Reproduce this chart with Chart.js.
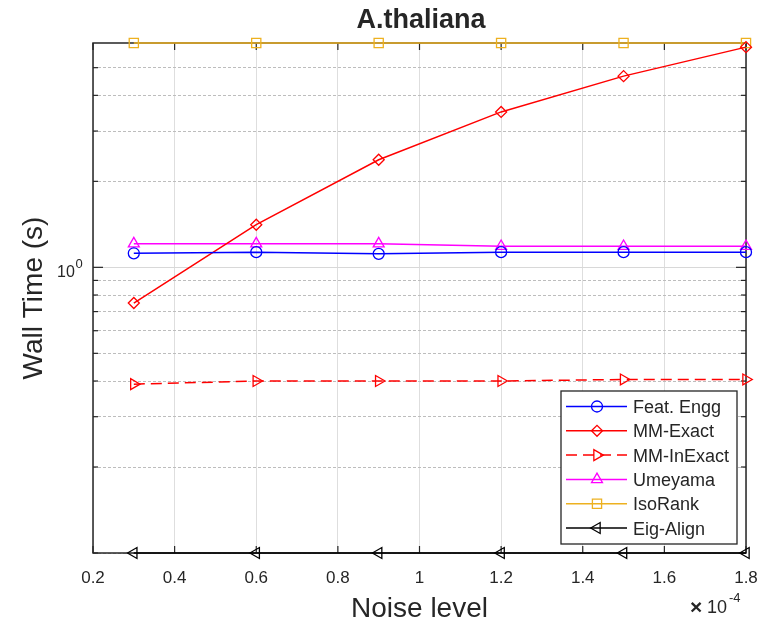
<!DOCTYPE html>
<html>
<head>
<meta charset="utf-8">
<title>A.thaliana</title>
<script src="https://cdn.jsdelivr.net/npm/chart.js@4.4.1/dist/chart.umd.min.js"></script>
<style>
  html,body{margin:0;padding:0;background:#fff;}
  #wrap{width:769px;height:622px;}
</style>
</head>
<body>
<div id="wrap"><canvas id="chart" width="769" height="622"></canvas></div>
<script>
/* data (noise level in units of 1e-4, wall time in s) */
const noise = [0.3, 0.6, 0.9, 1.2, 1.5, 1.8];
const featEngg = [1.12, 1.13, 1.115, 1.13, 1.13, 1.13];
const mmExact = [0.75, 1.41, 2.38, 3.50, 4.67, 5.90];
const mmInExact = [0.39, 0.40, 0.40, 0.40, 0.405, 0.405];
const umeyama = [1.21, 1.21, 1.21, 1.185, 1.185, 1.185];
const isoRank = [6.1, 6.1, 6.1, 6.1, 6.1, 6.1];
const eigAlign = [0.1, 0.1, 0.1, 0.1, 0.1, 0.1];

const xTicks = [0.2, 0.4, 0.6, 0.8, 1.0, 1.2, 1.4, 1.6, 1.8];
const xTickLabels = ['0.2', '0.4', '0.6', '0.8', '1', '1.2', '1.4', '1.6', '1.8'];
const yTicks = [0.1, 0.2, 0.3, 0.4, 0.5, 0.6, 0.7, 0.8, 0.9, 1, 2, 3, 4, 5];
const yMin = 0.1, yMax = 6.1;

const FONT = '"Liberation Sans", Arial, Helvetica, sans-serif';
const INK = '#262626';

function series(label, values, color, style, rot, dash){
  let r = 5.5;
  if(style === 'rect') r = 6.5;
  if(style === 'triangle') r = 6.3;
  return {
    label,
    data: noise.map((x, i) => ({x, y: values[i]})),
    borderColor: color,
    backgroundColor: 'rgba(0,0,0,0)',
    borderWidth: 1.5,
    borderDash: dash || [],
    pointStyle: style,
    pointRotation: rot || 0,
    pointRadius: r,
    pointBorderWidth: 1.3,
    pointBorderColor: color,
    pointBackgroundColor: 'rgba(0,0,0,0)',
    tension: 0,
    clip: false
  };
}

const datasets = [
  series('Feat. Engg', featEngg, '#0000ff', 'circle'),
  series('MM-Exact', mmExact, '#ff0000', 'rectRot'),
  series('MM-InExact', mmInExact, '#ff0000', 'triangle', 90, [11, 6]),
  series('Umeyama', umeyama, '#ff00ff', 'triangle'),
  series('IsoRank', isoRank, '#edb120', 'rect'),
  series('Eig-Align', eigAlign, '#000000', 'triangle', -90)
];

function line(ctx, x1, y1, x2, y2){
  ctx.beginPath(); ctx.moveTo(x1, y1); ctx.lineTo(x2, y2); ctx.stroke();
}

/* MATLAB style box with inward ticks, drawn under the data */
const boxPlugin = {
  id: 'box',
  beforeDatasetsDraw(chart){
    const {ctx, chartArea: a, scales: {x, y}} = chart;
    ctx.save();
    ctx.strokeStyle = INK;
    ctx.lineWidth = 1.5;
    ctx.strokeRect(a.left, a.top, a.right - a.left, a.bottom - a.top);
    ctx.lineWidth = 1.2;
    xTicks.forEach(v => {
      const px = x.getPixelForValue(v);
      line(ctx, px, a.bottom, px, a.bottom - 7);
      line(ctx, px, a.top, px, a.top + 7);
    });
    yTicks.forEach(v => {
      const py = y.getPixelForValue(v);
      const len = v === 1 ? 10 : 5;
      line(ctx, a.left, py, a.left + len, py);
      line(ctx, a.right, py, a.right - len, py);
    });
    ctx.restore();
  }
};

/* texts and legend */
const textPlugin = {
  id: 'texts',
  afterDraw(chart){
    const {ctx, chartArea: a, scales: {x, y}} = chart;
    ctx.save();
    ctx.fillStyle = INK;

    // title
    ctx.font = 'bold 27px ' + FONT;
    ctx.textAlign = 'center';
    ctx.textBaseline = 'alphabetic';
    ctx.fillText('A.thaliana', 421, 28);

    // x tick labels
    ctx.font = '17px ' + FONT;
    xTicks.forEach((v, i) => ctx.fillText(xTickLabels[i], x.getPixelForValue(v), 583));

    // y tick label 10^0
    const py = y.getPixelForValue(1);
    ctx.textAlign = 'left';
    ctx.font = '16px ' + FONT;
    ctx.fillText('10', 57, py + 10);
    ctx.font = '13px ' + FONT;
    ctx.fillText('0', 75.5, py + 1);

    // exponent of x axis
    ctx.font = 'bold 21px ' + FONT;
    ctx.fillText('\u00d7', 690, 614);
    ctx.font = '18px ' + FONT;
    ctx.fillText('10', 707, 613);
    ctx.font = '13px ' + FONT;
    ctx.fillText('-4', 729, 602);

    // axis titles
    ctx.font = '28px ' + FONT;
    ctx.textAlign = 'center';
    ctx.fillText('Noise level', (a.left + a.right) / 2, 617);
    ctx.save();
    ctx.translate(41.5, (a.top + a.bottom) / 2);
    ctx.rotate(-Math.PI / 2);
    ctx.fillText('Wall Time (s)', 0, 0);
    ctx.restore();

    // legend
    const lx = 561, ly = 391, lw = 176, lh = 153, rowH = 24.3;
    ctx.fillStyle = '#fff';
    ctx.fillRect(lx, ly, lw, lh);
    ctx.strokeStyle = INK;
    ctx.lineWidth = 1.3;
    ctx.strokeRect(lx, ly, lw, lh);
    ctx.font = '18px ' + FONT;
    ctx.textAlign = 'left';
    chart.data.datasets.forEach((ds, i) => {
      const cy = ly + 15.5 + i * rowH;
      ctx.save();
      ctx.strokeStyle = ds.borderColor;
      ctx.lineWidth = ds.borderWidth;
      ctx.setLineDash(ds.borderDash);
      line(ctx, 566, cy, 627, cy);
      ctx.setLineDash([]);
      ctx.fillStyle = 'rgba(0,0,0,0)';
      ctx.lineWidth = ds.pointBorderWidth;
      Chart.helpers.drawPoint(ctx, {
        pointStyle: ds.pointStyle, rotation: ds.pointRotation,
        radius: ds.pointRadius, borderWidth: ds.pointBorderWidth
      }, 597, cy);
      ctx.restore();
      ctx.fillStyle = INK;
      ctx.fillText(ds.label, 633, cy + 6.5);
    });
    ctx.restore();
  }
};

new Chart(document.getElementById('chart'), {
  type: 'line',
  data: {datasets},
  options: {
    responsive: false,
    animation: false,
    devicePixelRatio: 1,
    layout: {padding: {left: 93, right: 23, top: 43, bottom: 69}},
    plugins: {legend: {display: false}, tooltip: {enabled: false}, title: {display: false}},
    scales: {
      x: {
        type: 'linear', min: 0.2, max: 1.8,
        afterBuildTicks: s => { s.ticks = xTicks.map(v => ({value: v})); },
        ticks: {display: false},
        grid: {color: '#dedede', lineWidth: 1, drawTicks: false},
        border: {display: false}
      },
      y: {
        type: 'logarithmic', min: yMin, max: yMax,
        afterBuildTicks: s => { s.ticks = yTicks.map(v => ({value: v, major: v === 1})); },
        ticks: {display: false},
        grid: {
          color: c => (c.tick && c.tick.value === 1) ? '#d8d8d8' : '#bdbdbd',
          lineWidth: 1, drawTicks: false
        },
        border: {display: false, dash: c => (c.tick && c.tick.value !== 1) ? [3, 2] : []}
      }
    }
  },
  plugins: [boxPlugin, textPlugin]
});
</script>
</body>
</html>
